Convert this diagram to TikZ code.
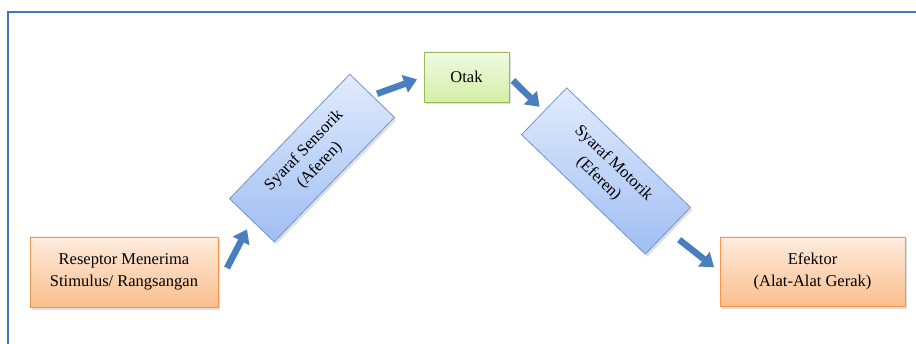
\documentclass[tikz,border=0pt]{standalone}
\usepackage{fontspec}
\setmainfont{Liberation Serif}
\usetikzlibrary{arrows.meta,shadows}
\definecolor{framec}{RGB}{68,114,196}
\definecolor{orgtop}{RGB}{253,236,222}
\definecolor{orgbot}{RGB}{250,190,140}
\definecolor{orgbd}{RGB}{247,150,70}
\definecolor{grntop}{RGB}{240,250,228}
\definecolor{grnbot}{RGB}{212,238,165}
\definecolor{grnbd}{RGB}{155,187,89}
\definecolor{blutop}{RGB}{225,235,253}
\definecolor{blubot}{RGB}{160,190,243}
\definecolor{blubd}{RGB}{110,150,205}
\definecolor{arrc}{RGB}{74,126,189}
\tikzset{
  boxbase/.style={rectangle, inner sep=0pt, align=center, line width=0.8pt,
    font=\fontsize{16.5}{21.5}\selectfont,
    drop shadow={shadow xshift=2pt, shadow yshift=-2.5pt, opacity=0.25}},
  orgbox/.style={boxbase, draw=orgbd, top color=orgtop, bottom color=orgbot},
  grnbox/.style={boxbase, draw=grnbd, top color=grntop, bottom color=grnbot},
  blubox/.style={boxbase, draw=blubd, top color=blutop, bottom color=blubot},
  flow/.style={draw=arrc, line width=6.5pt, -{Triangle[width=18pt,length=13pt]}}
}
\begin{document}
\begin{tikzpicture}[x=1pt,y=1pt]
\useasboundingbox (0,0) rectangle (916,343);
\draw[framec, line width=2pt] (7.5,-2) -- (7.5,331) -- (918,331);

\node[orgbox, minimum width=188pt, minimum height=70pt] (res) at (124,71)
  {Reseptor Menerima\\Stimulus/ Rangsangan};
\node[orgbox, minimum width=185pt, minimum height=69pt] (efek) at (812.5,71.5)
  {Efektor\\(Alat-Alat Gerak)};
\node[grnbox, minimum width=85pt, minimum height=50pt] (otak) at (466.5,266)
  {Otak};
\node[blubox, minimum width=173pt, minimum height=62pt, rotate=46] (sens) at (312,185)
  {Syaraf Sensorik\\(Aferen)};
\node[blubox, minimum width=172pt, minimum height=65pt, rotate=-44] (mot) at (606,172)
  {Syaraf Motorik\\(Eferen)};

\coordinate (a1) at (227,75);
\path[flow, shorten >=10pt] (a1) -- (sens.west);
\path[flow, shorten <=5pt, shorten >=7pt] (sens.east) -- (otak.west);
\path[flow, shorten <=5pt, shorten >=6pt] (otak.east) -- (mot.west);
\path[flow, shorten <=14pt, shorten >=7pt] (mot.east) -- (efek.west);
\end{tikzpicture}
\end{document}
